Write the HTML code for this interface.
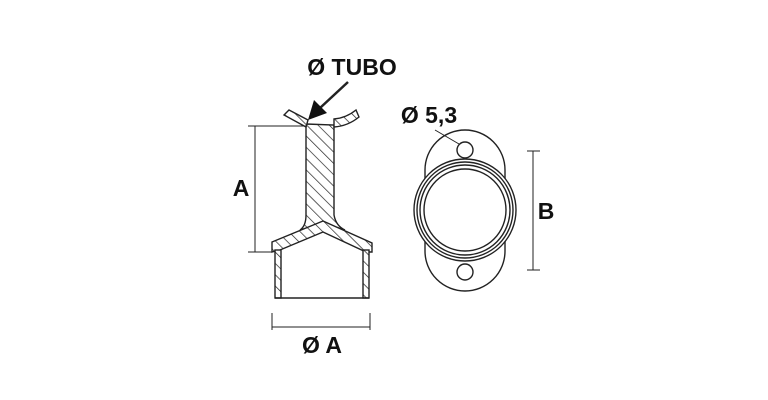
<!DOCTYPE html>
<html><head><style>html,body{margin:0;padding:0;background:#fff}svg{display:block}</style></head>
<body>
<svg width="768" height="400" viewBox="0 0 768 400" xmlns="http://www.w3.org/2000/svg">
<defs>
<pattern id="h" patternUnits="userSpaceOnUse" width="8" height="8" patternTransform="rotate(-45)">
<rect width="8" height="8" fill="#fff"/><line x1="0" y1="0" x2="0" y2="8" stroke="#222" stroke-width="1.4"/>
</pattern>
</defs>
<g stroke="#222" stroke-width="1.4" fill="none">
<path d="M306,124 L334,125 L334,215 Q336,226 345,230 L323,223 L300,230 Q306,226 306,215 Z" fill="url(#h)"/>
<path d="M284,115 L289,110 L308,120 L306,127 Z" fill="url(#h)"/>
<path d="M334,119 Q346,118 356,110 L359,117 Q348,126 334,127 Z" fill="url(#h)"/>
<path d="M272,242 L323,221 L372,243 L372,252 L366,252 L323,232 L280,250 L272,252 Z" fill="url(#h)"/>
<rect x="275" y="250" width="6" height="48" fill="url(#h)"/>
<rect x="363" y="250" width="6" height="48" fill="url(#h)"/>
<line x1="275" y1="298" x2="369" y2="298"/>
<line x1="255" y1="126" x2="255" y2="252" stroke-width="1"/>
<line x1="248" y1="126" x2="306" y2="126" stroke-width="1"/>
<line x1="248" y1="252" x2="272" y2="252" stroke-width="1"/>
<line x1="272" y1="327" x2="370" y2="327" stroke-width="1"/>
<line x1="272" y1="313" x2="272" y2="330" stroke-width="1"/>
<line x1="370" y1="313" x2="370" y2="330" stroke-width="1"/>
<path d="M425,170 A40,40 0 0 1 505,170 L505,251 A40,40 0 0 1 425,251 Z" fill="#fff"/>
<circle cx="465" cy="210" r="51" fill="#fff"/>
<circle cx="465" cy="210" r="48"/>
<circle cx="465" cy="210" r="45"/>
<circle cx="465" cy="210" r="41"/>
<circle cx="465" cy="150" r="8"/>
<circle cx="465" cy="272" r="8"/>
<line x1="435" y1="130" x2="459" y2="144" stroke-width="1"/>
<line x1="533" y1="151" x2="533" y2="270" stroke-width="1"/>
<line x1="527" y1="151" x2="540" y2="151" stroke-width="1"/>
<line x1="527" y1="270" x2="540" y2="270" stroke-width="1"/>
<line x1="348" y1="82" x2="320" y2="108" stroke-width="2.5"/>
</g>
<polygon points="308,120 314,100 327,113" fill="#111"/>
<g font-family="Liberation Sans, sans-serif" font-weight="bold" fill="#111">
<text x="352" y="75" font-size="23" text-anchor="middle">Ø TUBO</text>
<text x="241" y="196" font-size="23" text-anchor="middle">A</text>
<text x="322" y="353" font-size="23" text-anchor="middle">Ø A</text>
<text x="429" y="123" font-size="23" text-anchor="middle">Ø 5,3</text>
<text x="546" y="219" font-size="23" text-anchor="middle">B</text>
</g>
</svg>
</body></html>
